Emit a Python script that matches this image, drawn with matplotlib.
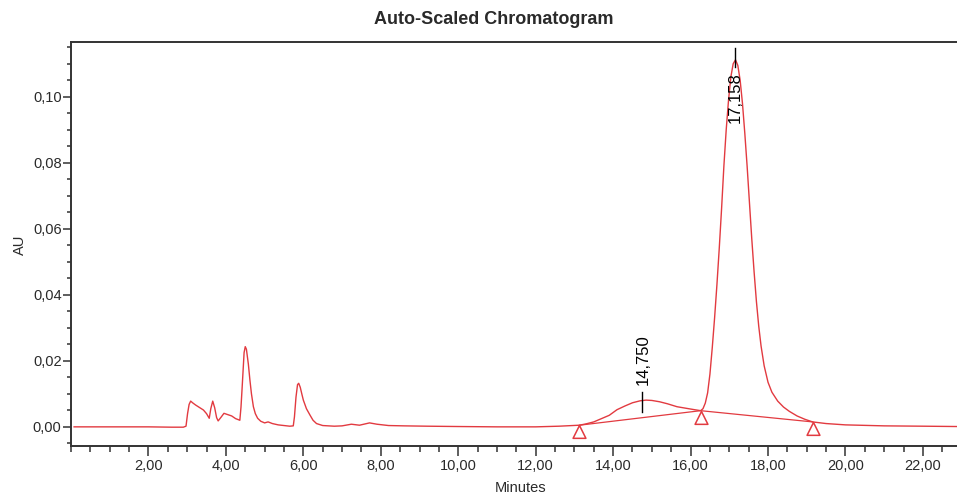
import matplotlib
matplotlib.use("Agg")
import matplotlib.pyplot as plt
from matplotlib.ticker import FixedLocator, MultipleLocator, FuncFormatter
from matplotlib.path import Path

plt.rcParams['font.family'] = ['Liberation Sans', 'DejaVu Sans']

# ---- data ----
time_min = [0.08, 1.0, 2.0, 2.6, 2.9, 2.97, 3.01, 3.05, 3.09, 3.15, 3.22, 3.3, 3.42,
            3.5, 3.57, 3.61, 3.66, 3.71, 3.76, 3.80, 3.88, 3.95, 4.05, 4.15, 4.25,
            4.36, 4.39, 4.42, 4.47, 4.50, 4.53, 4.58, 4.62, 4.66, 4.71, 4.76, 4.82,
            4.90, 5.0, 5.09, 5.2, 5.35, 5.5, 5.65, 5.74, 5.77, 5.81, 5.85, 5.88,
            5.92, 5.96, 6.00, 6.08, 6.17, 6.25, 6.34, 6.5, 6.8, 7.0, 7.24, 7.45,
            7.71, 7.9, 8.2, 8.6, 9.2, 10.0, 11.0, 12.0, 12.6,
            13.13, 13.3, 13.5, 13.7, 13.9, 14.1, 14.3, 14.5, 14.7, 14.85, 15.0,
            15.2, 15.4, 15.65, 15.85, 16.05, 16.26,
            16.32, 16.38, 16.44, 16.50, 16.56, 16.62, 16.68, 16.74, 16.80, 16.86,
            16.92, 16.98, 17.04, 17.10, 17.16, 17.22, 17.28, 17.34, 17.40, 17.46,
            17.52, 17.58, 17.64, 17.70, 17.76, 17.82, 17.90, 18.00, 18.10, 18.25,
            18.40, 18.55, 18.75, 18.95, 19.15, 19.5, 20.0, 21.0, 22.0, 22.88]
absorbance = [0.0000, 0.0000, 0.0000, -0.0001, -0.0001, 0.0002, 0.0040, 0.0068, 0.0078,
              0.0072, 0.0066, 0.0060, 0.0051,
              0.0040, 0.0026, 0.0055, 0.0078, 0.0058, 0.0028, 0.0018, 0.0030, 0.0041,
              0.0037, 0.0033, 0.0025,
              0.0020, 0.0060, 0.0120, 0.0225, 0.0243, 0.0235, 0.0190, 0.0142, 0.0100,
              0.0061, 0.0040, 0.0026,
              0.0017, 0.0012, 0.0015, 0.0010, 0.0006, 0.0004, 0.0002, 0.0003, 0.0030,
              0.0090, 0.0128, 0.0132,
              0.0120, 0.0100, 0.0081, 0.0055, 0.0036, 0.0020, 0.0010, 0.0004, 0.0002,
              0.0003, 0.0008, 0.0005,
              0.0012, 0.0008, 0.0004, 0.0003, 0.0002, 0.0001, 0.0000, 0.0000, 0.0002,
              0.0005, 0.0009, 0.0015, 0.0025, 0.0035, 0.0052, 0.0063, 0.0073, 0.0079,
              0.0081, 0.0080,
              0.0076, 0.0070, 0.0061, 0.0057, 0.0053, 0.0049,
              0.0055, 0.0072, 0.0103, 0.0160, 0.0240, 0.0330, 0.0430, 0.0540, 0.0660,
              0.0790,
              0.0900, 0.0990, 0.1060, 0.1100, 0.1112, 0.1095, 0.1050, 0.0980, 0.0890,
              0.0790,
              0.0680, 0.0570, 0.0470, 0.0380, 0.0305, 0.0245, 0.0185, 0.0135, 0.0105,
              0.0078,
              0.0060, 0.0047, 0.0033, 0.0023, 0.0015, 0.0010, 0.0006, 0.0003, 0.0002,
              0.0001]

# integration baseline points (peak start / valley / end)
base_time = [13.13, 16.26, 19.15]
base_au = [0.0005, 0.0049, 0.0015]

# peak labels
peak_rt = [14.750, 17.158]
peak_label = ["14,750", "17,158"]

x_major = [2, 4, 6, 8, 10, 12, 14, 16, 18, 20, 22]
y_major = [0.00, 0.02, 0.04, 0.06, 0.08, 0.10]

RED = '#e23a40'
TXT = '#2a2a2a'

fig = plt.figure(figsize=(9.57, 4.95), dpi=100)
ax = fig.add_axes([71/957, 1 - 446/495, 886/957, (446 - 42)/495])

ax.plot(time_min, absorbance, color=RED, lw=1.0, zorder=3)
ax.plot(base_time, base_au, color=RED, lw=0.9, zorder=2)

# triangle markers with apex at the point
tri = Path([(0, 0), (-0.5, -1), (0.5, -1), (0, 0)],
           [Path.MOVETO, Path.LINETO, Path.LINETO, Path.CLOSEPOLY])
ax.plot(base_time, base_au, ls='none', marker=tri, ms=18.5, mfc='white',
        mec=RED, mew=1.1, zorder=4)

# peak label 14,750 (tick + text above)
ax.plot([peak_rt[0], peak_rt[0]], [0.0044, 0.0107], color='black', lw=1.0, zorder=5)
ax.text(peak_rt[0] + 0.04, 0.0127, peak_label[0], rotation=90, ha='center',
        va='bottom', fontsize=12, color='black', zorder=6)
# peak label 17,158 (tick above apex + text inside peak)
ax.plot([peak_rt[1], peak_rt[1]], [0.1090, 0.1147], color='black', lw=1.0, zorder=5)
ax.text(peak_rt[1], 0.1075, peak_label[1], rotation=90, ha='center',
        va='top', fontsize=12, color='black', zorder=6)

ax.set_xlim(0, 22.88)
ax.set_ylim(-0.0058, 0.1166)

ax.xaxis.set_major_locator(FixedLocator(x_major))
ax.xaxis.set_minor_locator(MultipleLocator(0.5))
ax.yaxis.set_major_locator(FixedLocator(y_major))
ax.yaxis.set_minor_locator(MultipleLocator(0.005))
ax.xaxis.set_major_formatter(FuncFormatter(lambda v, p: f"{v:.2f}".replace('.', ',')))
ax.yaxis.set_major_formatter(FuncFormatter(lambda v, p: f"{v:.2f}".replace('.', ',')))

ax.tick_params(axis='x', which='major', length=7.2, width=1.1, pad=2,
               labelsize=10.5, labelcolor=TXT, color='#333333', direction='out')
ax.tick_params(axis='x', which='minor', length=4.0, width=1.1, color='#333333',
               direction='out')
ax.tick_params(axis='y', which='major', length=5.8, width=1.1, pad=1,
               labelsize=10.5, labelcolor=TXT, color='#333333', direction='out')
ax.tick_params(axis='y', which='minor', length=2.9, width=1.1, color='#333333',
               direction='out')

for s in ['top', 'left', 'bottom']:
    ax.spines[s].set_color('#333333')
    ax.spines[s].set_linewidth(1.4)
ax.spines['right'].set_visible(False)

fig.text(493.5/957, 1 - 20/495, "Auto-Scaled Chromatogram", ha='center', va='center',
         fontsize=13, fontweight='bold', color=TXT)
fig.text(521/957, 1 - 488/495, "Minutes", ha='center', va='center',
         fontsize=10.5, color=TXT)
fig.text(20/957, 1 - 245/495, "AU", ha='center', va='center', rotation=90,
         fontsize=10.5, color=TXT)

fig.savefig("out.png", dpi=100)
